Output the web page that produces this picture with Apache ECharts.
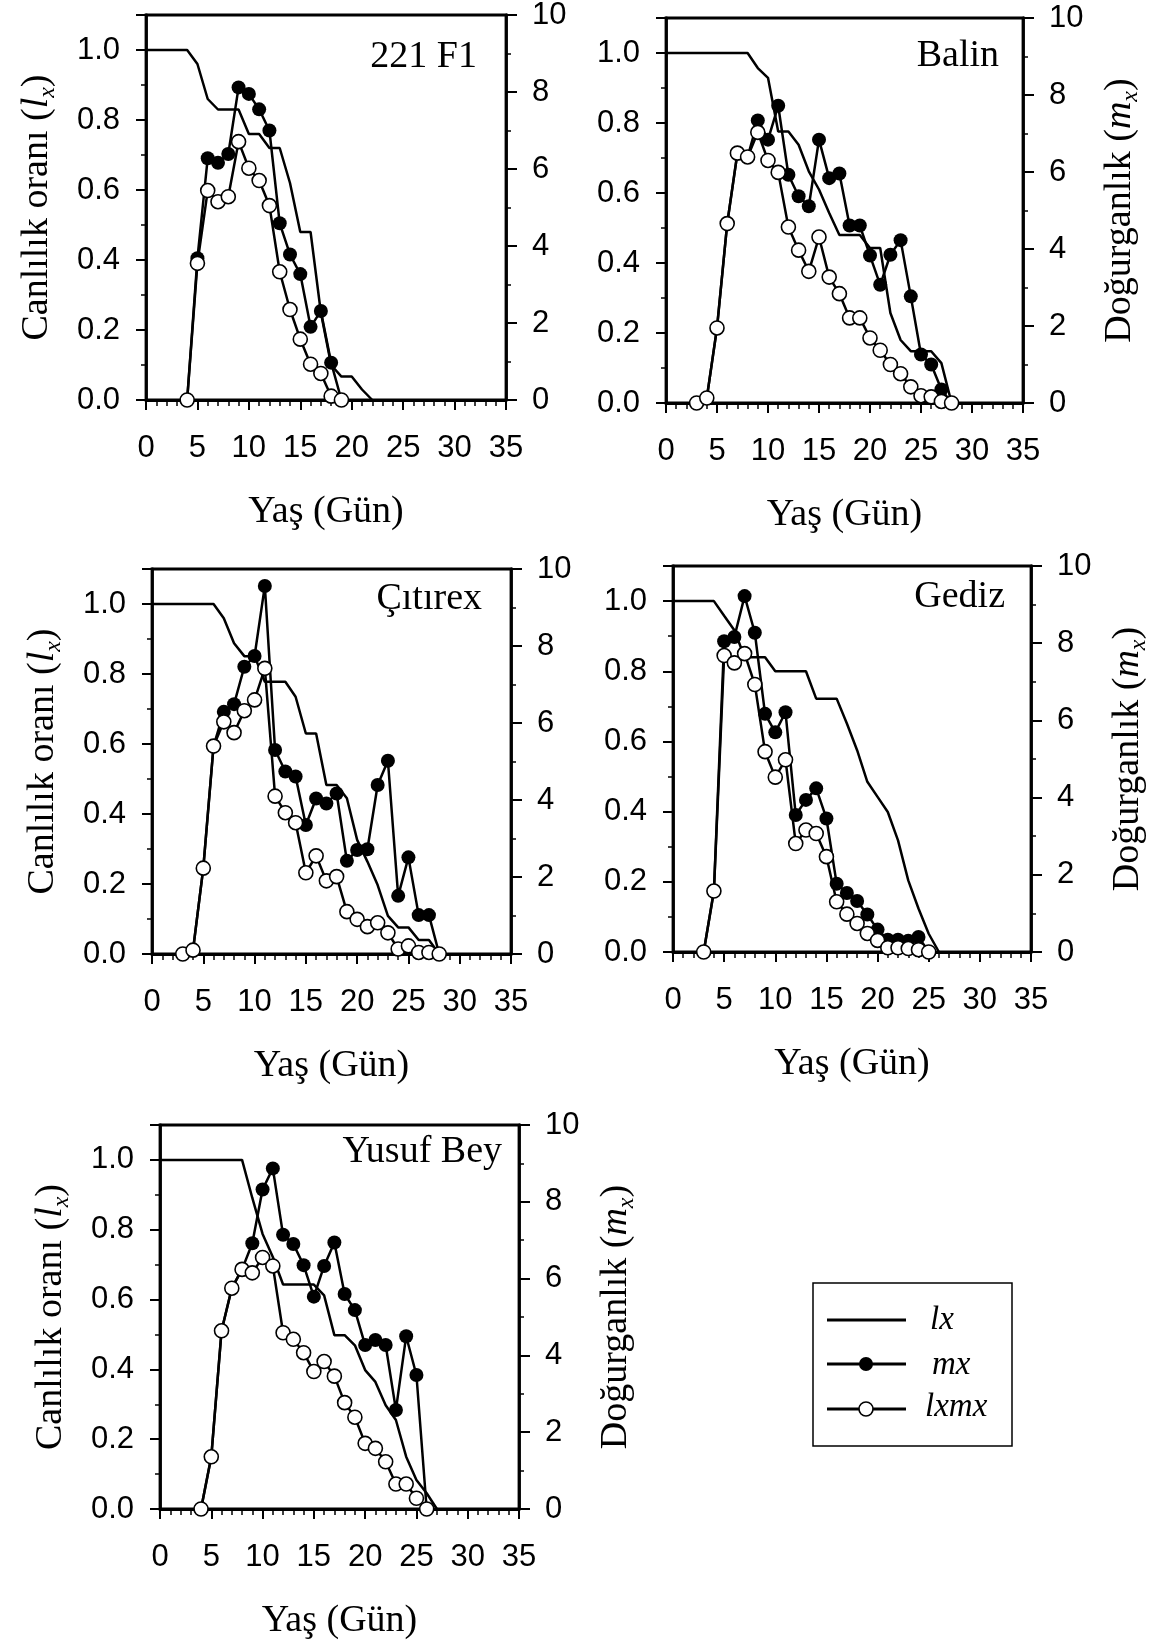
<!DOCTYPE html>
<html>
<head>
<meta charset="utf-8">
<script src="https://cdn.jsdelivr.net/npm/echarts@6/dist/echarts.min.js"></script>
<style>
html, body { margin: 0; background: #fff; }
#chart { width: 1173px; height: 1647px; }
</style>
</head>
<body>
<div id="chart"></div>
<script>
// lx starts at day 0, mx / lxmx start at the given day
const lx221 = [1, 1, 1, 1, 1, 0.96, 0.86, 0.83, 0.83, 0.83, 0.76, 0.76, 0.72, 0.72, 0.62, 0.48, 0.48, 0.25, 0.10, 0.067, 0.067, 0.03, 0];
const start221 = 4;
const mx221 = [0, 3.68, 6.28, 6.16, 6.39, 8.12, 7.95, 7.55, 7.0, 4.59, 3.78, 3.27, 1.9, 2.31, 0.97, 0];
const lxmx221 = [0, 3.55, 5.44, 5.15, 5.28, 6.71, 6.02, 5.70, 5.05, 3.33, 2.35, 1.58, 0.93, 0.69, 0.10, 0];

const lxBalin = [1, 1, 1, 1, 1, 1, 1, 1, 1, 0.957, 0.929, 0.776, 0.776, 0.738, 0.662, 0.61, 0.543, 0.48, 0.48, 0.48, 0.443, 0.443, 0.257, 0.18, 0.148, 0.148, 0.148, 0.114, 0];
const startBalin = 3;
const mxBalin = [0, 0.13, 1.95, 4.66, 6.49, 6.39, 7.34, 6.84, 7.72, 5.93, 5.37, 5.11, 6.84, 5.84, 5.96, 4.61, 4.61, 3.83, 3.07, 3.85, 4.23, 2.77, 1.26, 1.0, 0.35, 0];
const lxmxBalin = [0, 0.13, 1.95, 4.66, 6.49, 6.39, 7.03, 6.30, 5.99, 4.57, 3.97, 3.42, 4.31, 3.27, 2.84, 2.21, 2.21, 1.69, 1.37, 1.0, 0.76, 0.42, 0.19, 0.16, 0.04, 0];

const lxCitirex = [1, 1, 1, 1, 1, 1, 1, 0.959, 0.888, 0.851, 0.851, 0.778, 0.778, 0.778, 0.735, 0.63, 0.63, 0.483, 0.483, 0.445, 0.326, 0.264, 0.197, 0.109, 0.076, 0.076, 0.04, 0.04, 0];
const startCitirex = 3;
const mxCitirex = [0, 0.10, 2.23, 5.40, 6.29, 6.49, 7.46, 7.74, 9.56, 5.30, 4.74, 4.61, 3.35, 4.04, 3.91, 4.17, 2.42, 2.70, 2.72, 4.39, 5.02, 1.51, 2.51, 1.01, 1.01, 0];
const lxmxCitirex = [0, 0.10, 2.23, 5.40, 6.03, 5.75, 6.32, 6.60, 7.42, 4.10, 3.67, 3.41, 2.11, 2.55, 1.90, 2.01, 1.10, 0.90, 0.71, 0.81, 0.55, 0.13, 0.21, 0.04, 0.04, 0];

const lxGediz = [1, 1, 1, 1, 1, 0.958, 0.917, 0.84, 0.84, 0.84, 0.80, 0.80, 0.80, 0.80, 0.722, 0.722, 0.722, 0.651, 0.575, 0.485, 0.442, 0.399, 0.318, 0.204, 0.124, 0.052, 0];
const startGediz = 3;
const mxGediz = [0, 1.58, 8.05, 8.16, 9.22, 8.27, 6.17, 5.69, 6.21, 3.55, 3.94, 4.24, 3.46, 1.77, 1.53, 1.32, 0.97, 0.58, 0.32, 0.32, 0.29, 0.39, 0];
const lxmxGediz = [0, 1.58, 7.68, 7.49, 7.73, 6.93, 5.19, 4.53, 4.98, 2.81, 3.16, 3.07, 2.47, 1.30, 0.98, 0.74, 0.48, 0.30, 0.11, 0.11, 0.09, 0.06, 0];

const lxYusuf = [1, 1, 1, 1, 1, 1, 1, 1, 1, 0.891, 0.788, 0.722, 0.643, 0.643, 0.643, 0.643, 0.612, 0.498, 0.498, 0.469, 0.398, 0.364, 0.297, 0.255, 0.15, 0.083, 0.045, 0];
const startYusuf = 4;
const mxYusuf = [0, 1.36, 4.64, 5.75, 6.24, 6.92, 8.32, 8.87, 7.14, 6.90, 6.35, 5.53, 6.33, 6.94, 5.60, 5.18, 4.27, 4.40, 4.27, 2.58, 4.50, 3.49, 0];
const lxmxYusuf = [0, 1.36, 4.64, 5.75, 6.24, 6.15, 6.55, 6.33, 4.59, 4.42, 4.07, 3.58, 3.84, 3.46, 2.77, 2.39, 1.71, 1.58, 1.23, 0.65, 0.65, 0.28, 0];

const names = ['221 F1', 'Balin', 'Çıtırex', 'Gediz', 'Yusuf Bey'];
const xTitle = 'Yaş (Gün)';

const serif = '"Liberation Serif", "Times New Roman", serif';
const sans = '"Liberation Sans", Arial, sans-serif';

const panels = [
  { lx: lx221, start: start221, mx: mx221, lxmx: lxmx221,
    grid: [146, 15, 360, 385], tag: [477, 57], left: true, right: false },
  { lx: lxBalin, start: startBalin, mx: mxBalin, lxmx: lxmxBalin,
    grid: [666, 18, 357, 385], tag: [999, 56], left: false, right: true },
  { lx: lxCitirex, start: startCitirex, mx: mxCitirex, lxmx: lxmxCitirex,
    grid: [152, 569, 359, 385], tag: [482, 599], left: true, right: false },
  { lx: lxGediz, start: startGediz, mx: mxGediz, lxmx: lxmxGediz,
    grid: [673, 566, 358, 386], tag: [1005, 597], left: false, right: true },
  { lx: lxYusuf, start: startYusuf, mx: mxYusuf, lxmx: lxmxYusuf,
    grid: [160, 1125, 359, 384], tag: [502, 1152], left: true, right: true }
];

function pairs(start, vals) {
  return vals.map((v, k) => [start + k, v]);
}

const subRich = {
  i: { fontFamily: serif, fontSize: 38, fontStyle: 'italic', color: '#000', lineHeight: 46 },
  s: { fontFamily: serif, fontSize: 24, fontStyle: 'italic', color: '#000', verticalAlign: 'bottom', lineHeight: 16 }
};

const grids = [], xAxes = [], yAxes = [], series = [], graphics = [];

panels.forEach((p, i) => {
  grids.push({
    left: p.grid[0], top: p.grid[1], width: p.grid[2], height: p.grid[3],
    show: true, borderColor: '#000', borderWidth: 2.8, backgroundColor: 'transparent',
    outerBoundsMode: 'none', containLabel: false
  });
  xAxes.push({
    gridIndex: i, type: 'value', min: 0, max: 35, interval: 5,
    axisLine: { onZero: false, lineStyle: { color: '#000', width: 2.8 } },
    axisTick: { length: 10, lineStyle: { color: '#000', width: 2 } },
    minorTick: { show: true, splitNumber: 5, length: 6, lineStyle: { color: '#000', width: 1.5 } },
    splitLine: { show: false },
    axisLabel: { fontFamily: sans, fontSize: 31, color: '#000', margin: 33 },
    name: xTitle, nameLocation: 'middle', nameGap: 93, nameMoveOverlap: false,
    nameTextStyle: { fontFamily: serif, fontSize: 38, color: '#000' }
  });
  yAxes.push({
    gridIndex: i, type: 'value', min: 0, max: 1.1, interval: 0.2, position: 'left',
    axisLine: { show: true, onZero: false, lineStyle: { color: '#000', width: 2.8 } },
    axisTick: { length: 10, lineStyle: { color: '#000', width: 2 } },
    splitLine: { show: false },
    axisLabel: { fontFamily: sans, fontSize: 31, color: '#000', margin: 26,
      formatter: v => (v > 1.05 ? '' : v.toFixed(1)) },
    name: p.left ? 'Canlılık oranı ({i|l}{s|x})' : '',
    nameLocation: 'middle', nameRotate: 90, nameGap: 86, nameMoveOverlap: false,
    nameTextStyle: { fontFamily: serif, fontSize: 38, color: '#000', lineHeight: 46, rich: subRich }
  });
  yAxes.push({
    gridIndex: i, type: 'value', min: 0, max: 1.1, interval: 0.1, position: 'left',
    axisLine: { show: false },
    axisTick: { length: 5, lineStyle: { color: '#000', width: 1.5 } },
    axisLabel: { show: false }, splitLine: { show: false }
  });
  yAxes.push({
    gridIndex: i, type: 'value', min: 0, max: 10, interval: 2, position: 'right',
    axisLine: { show: true, onZero: false, lineStyle: { color: '#000', width: 2.8 } },
    axisTick: { length: 11, lineStyle: { color: '#000', width: 2 } },
    minorTick: { show: true, splitNumber: 2, length: 5, lineStyle: { color: '#000', width: 1.5 } },
    splitLine: { show: false },
    axisLabel: { fontFamily: sans, fontSize: 31, color: '#000', margin: 26 },
    name: p.right ? 'Doğurganlık ({i|m}{s|x})' : '',
    nameLocation: 'middle', nameRotate: 90, nameGap: 74, nameMoveOverlap: false,
    nameTextStyle: { fontFamily: serif, fontSize: 38, color: '#000', lineHeight: 46, rich: subRich }
  });

  const base = { type: 'line', xAxisIndex: i, clip: false, animation: false,
    lineStyle: { color: '#000', width: 2.5 }, emphasis: { disabled: true } };
  series.push(Object.assign({}, base, {
    name: 'lx', yAxisIndex: 3 * i, symbol: 'none', data: pairs(0, p.lx)
  }));
  series.push(Object.assign({}, base, {
    name: 'mx', yAxisIndex: 3 * i + 2, symbol: 'circle', symbolSize: 14,
    itemStyle: { color: '#000' }, data: pairs(p.start, p.mx)
  }));
  series.push(Object.assign({}, base, {
    name: 'lxmx', yAxisIndex: 3 * i + 2, symbol: 'circle', symbolSize: 14,
    itemStyle: { color: '#fff', borderColor: '#000', borderWidth: 1.6 }, data: pairs(p.start, p.lxmx)
  }));

  graphics.push({
    type: 'text', x: p.tag[0], y: p.tag[1], z: 10,
    style: { text: names[i], fontFamily: serif, fontSize: 38, fill: '#000', align: 'right', verticalAlign: 'middle' }
  });
});

// legend box
graphics.push(
  { type: 'rect', shape: { x: 813, y: 1283, width: 199, height: 163 }, style: { fill: 'none', stroke: '#000', lineWidth: 1.5 } },
  { type: 'line', shape: { x1: 827, y1: 1320, x2: 906, y2: 1320 }, style: { stroke: '#000', lineWidth: 2.8 } },
  { type: 'line', shape: { x1: 827, y1: 1364, x2: 906, y2: 1364 }, style: { stroke: '#000', lineWidth: 2.8 } },
  { type: 'circle', shape: { cx: 866, cy: 1364, r: 7 }, style: { fill: '#000' } },
  { type: 'line', shape: { x1: 827, y1: 1409, x2: 906, y2: 1409 }, style: { stroke: '#000', lineWidth: 2.8 } },
  { type: 'circle', shape: { cx: 866, cy: 1409, r: 7 }, style: { fill: '#fff', stroke: '#000', lineWidth: 1.6 } },
  { type: 'text', x: 930, y: 1320, style: { text: 'lx', fontFamily: serif, fontStyle: 'italic', fontSize: 33, fill: '#000', verticalAlign: 'middle' } },
  { type: 'text', x: 932, y: 1365, style: { text: 'mx', fontFamily: serif, fontStyle: 'italic', fontSize: 33, fill: '#000', verticalAlign: 'middle' } },
  { type: 'text', x: 925, y: 1407, style: { text: 'lxmx', fontFamily: serif, fontStyle: 'italic', fontSize: 33, fill: '#000', verticalAlign: 'middle' } }
);

const chart = echarts.init(document.getElementById('chart'), null, { renderer: 'canvas' });
chart.setOption({
  backgroundColor: '#fff',
  animation: false,
  grid: grids,
  xAxis: xAxes,
  yAxis: yAxes,
  series: series,
  graphic: graphics
});
</script>
</body>
</html>
